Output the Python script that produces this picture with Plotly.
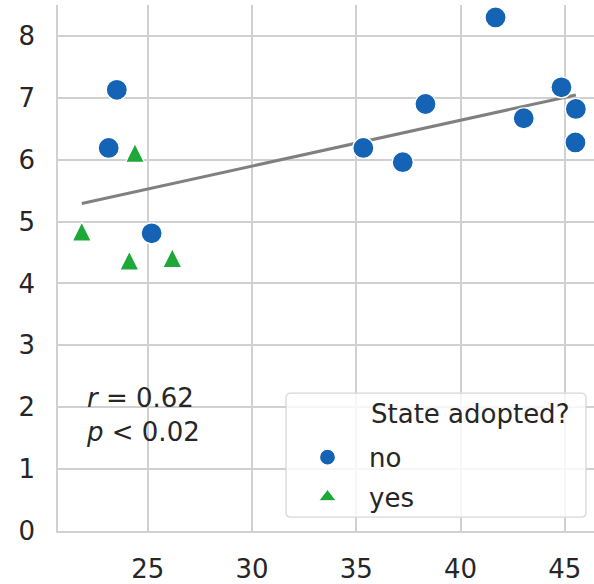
import numpy as np
import plotly.graph_objects as go

# Data
no_x = [23.52, 23.13, 25.19, 41.68, 44.84, 45.53, 45.51, 43.03, 38.32, 35.34, 37.23]
no_y = [7.13, 6.19, 4.81, 8.30, 7.17, 6.82, 6.28, 6.67, 6.90, 6.19, 5.96]
yes_x = [21.84, 24.39, 24.12, 26.18]
yes_y = [4.84, 6.11, 4.37, 4.41]
x_ticks = [25, 30, 35, 40, 45]
y_ticks = [0, 1, 2, 3, 4, 5, 6, 7, 8]
r_text = "r = 0.62"
p_text = "p < 0.02"
legend_title = "State adopted?"

all_x = np.array(no_x + yes_x)
all_y = np.array(no_y + yes_y)
slope, intercept = np.polyfit(all_x, all_y, 1)
lx = np.array([all_x.min(), all_x.max()])
ly = slope * lx + intercept

BLUE = "#1463b4"
GREEN = "#1fa83a"
GRID = "#d0d0d0"
FONT = "DejaVu Sans"
TXT = "#262626"
FS = 26

W, H = 594, 584
ML, MR, MT, MB = 58, 0, 5, 49
PW, PH = W - ML - MR, H - MT - MB


def px2paper(x, y):
    return (x - ML) / PW, (H - MB - y) / PH


def rounded_rect(x0, y0, x1, y1, r):
    def P(x, y):
        a, b = px2paper(x, y)
        return f"{a:.5f},{b:.5f}"
    return (f"M {P(x0 + r, y0)} L {P(x1 - r, y0)} Q {P(x1, y0)} {P(x1, y0 + r)} "
            f"L {P(x1, y1 - r)} Q {P(x1, y1)} {P(x1 - r, y1)} "
            f"L {P(x0 + r, y1)} Q {P(x0, y1)} {P(x0, y1 - r)} "
            f"L {P(x0, y0 + r)} Q {P(x0, y0)} {P(x0 + r, y0)} Z")


fig = go.Figure()
fig.add_trace(go.Scatter(x=lx, y=ly, mode="lines", line=dict(color="#808080", width=3),
                         showlegend=False, hoverinfo="skip"))
fig.add_trace(go.Scatter(x=no_x, y=no_y, mode="markers", name="no", legendgroup="no",
                         marker=dict(symbol="circle", size=21, color=BLUE,
                                     line=dict(color="white", width=1.2))))
fig.add_trace(go.Scatter(x=yes_x, y=yes_y, mode="markers", name="yes", legendgroup="yes",
                         showlegend=False,
                         marker=dict(symbol="arrow-down", angle=180, standoff=9.5, size=19,
                                     color=GREEN, line=dict(color="white", width=1.2))))
# legend entry for "yes"
fig.add_trace(go.Scatter(x=[None], y=[None], mode="markers", name="yes", legendgroup="yes",
                         marker=dict(symbol="triangle-up", size=15, color=GREEN,
                                     line=dict(color="white", width=1))))

lx0, ly0 = px2paper(286, 437)
tx, ty = px2paper(369, 417)
fig.update_layout(
    width=W, height=H,
    margin=dict(l=ML, r=MR, t=MT, b=MB),
    paper_bgcolor="white", plot_bgcolor="white",
    font=dict(family=FONT, size=FS, color=TXT),
    showlegend=True,
    legend=dict(
        x=lx0, y=ly0, xanchor="left", yanchor="top",
        bgcolor="rgba(0,0,0,0)", borderwidth=0,
        font=dict(size=FS, color=TXT),
        itemsizing="trace", itemwidth=73, tracegroupgap=3,
    ),
    shapes=[dict(type="path", xref="paper", yref="paper", layer="above",
                 path=rounded_rect(286, 396, 586, 521, 5),
                 fillcolor="rgba(255,255,255,0.8)", line=dict(color="#d8d8d8", width=1.3))],
    annotations=[
        dict(x=0.0485, y=0.285, xref="paper", yref="paper", xanchor="left", yanchor="top",
             align="left", showarrow=False,
             text="<i>" + r_text[0] + "</i>" + r_text[1:] + "<br><i>" + p_text[0] + "</i>"
                  + p_text[1:].replace("<", "&lt;"),
             font=dict(size=FS, color=TXT, family=FONT)),
        dict(x=tx, y=ty, xref="paper", yref="paper", xanchor="left", yanchor="middle",
             showarrow=False, text=legend_title, font=dict(size=FS, color=TXT, family=FONT)),
    ],
)
fig.update_xaxes(range=[20.7, 46.4], tickvals=x_ticks, showgrid=True, gridcolor=GRID, gridwidth=1.6,
                 showline=True, linecolor=GRID, linewidth=1.6, zeroline=False,
                 ticks="", ticklabelstandoff=14, tickfont=dict(size=FS, color=TXT))
fig.update_yaxes(range=[0, 8.5], tickvals=y_ticks, showgrid=True, gridcolor=GRID, gridwidth=1.6,
                 showline=True, linecolor=GRID, linewidth=1.6, zeroline=False,
                 ticks="", ticklabelstandoff=16, tickfont=dict(size=FS, color=TXT))

fig.write_html("out.html")
